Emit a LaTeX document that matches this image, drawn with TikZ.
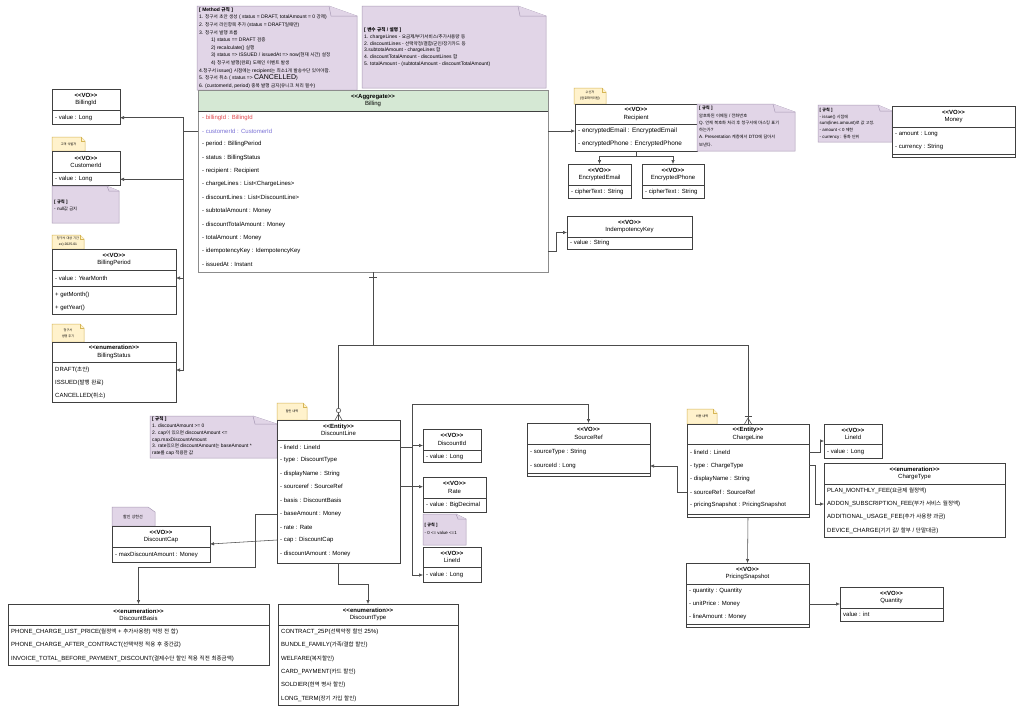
\documentclass[tikz,border=0pt]{standalone}
\usepackage{fontspec}
\setmainfont{Liberation Sans}
\newfontfamily\kr{Noto Sans CJK KR}[Scale=0.92]
\usetikzlibrary{arrows.meta,fit}
\XeTeXinterchartokenstate=1
\newXeTeXintercharclass\HangulClass
\newcount\hcnt
\hcnt="AC00
\loop \XeTeXcharclass\hcnt=\HangulClass\relax \ifnum\hcnt<"D7A3 \advance\hcnt by 1 \repeat
\XeTeXinterchartoks 0 \HangulClass = {\kr}
\XeTeXinterchartoks 4095 \HangulClass = {\kr}
\XeTeXinterchartoks \HangulClass 0 = {\rmfamily}
\XeTeXinterchartoks \HangulClass 4095 = {\rmfamily}
\definecolor{hdrgreen}{HTML}{D5E8D4}
\definecolor{notepurple}{HTML}{E1D5E7}
\definecolor{notedraw}{HTML}{A99BB6}
\definecolor{tagyellow}{HTML}{FFF2CC}
\definecolor{tagdraw}{HTML}{D6B656}
\definecolor{billred}{HTML}{E0474C}
\definecolor{billblue}{HTML}{7B72D6}
\newcommand\st[1]{\textbf{<\kern0pt<#1>\kern0pt>}}
\tikzset{
 conn/.style={draw=black!70, line width=0.55pt},
 arr/.style={conn, -{Latex[length=4pt,width=3.4pt]}},
 box/.style={draw=black!75, fill=white, line width=0.6pt, inner sep=0pt, outer sep=0pt},
 hdr/.style={align=center, inner sep=0pt, font=\fontsize{6}{7.3}\selectfont},
 attr/.style={anchor=west, inner sep=0pt, font=\fontsize{6}{7}\selectfont},
 notebox/.style={fill=notepurple, draw=notedraw, line width=0.5pt},
 tagbox/.style={fill=tagyellow, draw=tagdraw, line width=0.5pt},
 notetxt/.style={anchor=north west, align=left, inner sep=0pt, font=\fontsize{5}{6.9}\selectfont},
 tagtxt/.style={align=center, inner sep=0pt, font=\fontsize{3.4}{6}\selectfont},
}
\newcommand\ucls[8][]{%
  \node[box, #1, fit={(#3,#4) (#5,#7)}] (#2) {};
  \draw[box] (#3,#6) -- (#5,#6);
  \node[hdr] (#2-h) at ({(#3+#5)/2},{(#4+#6)/2}) {#8};
}
\newcommand\dbl[3]{\draw[box] (#1,#3) -- (#2,#3);}
\newcommand\notebg[6]{%
  \filldraw[notebox] (#1,#2) -- ({#3-#5},#2) -- (#3,{#2+#6}) -- (#3,#4) -- (#1,#4) -- cycle;
  \draw[notebox] ({#3-#5},#2) -- ({#3-#5+2},{#2+#6}) -- (#3,{#2+#6});
}
\newcommand\tagnote[6]{%
  \filldraw[tagbox] (#2,#3) -- ({#4-4},#3) -- (#4,{#3+4}) -- (#4,#5) -- (#2,#5) -- cycle;
  \draw[tagbox] ({#4-4},#3) -- ({#4-4},{#3+4}) -- (#4,{#3+4});
  \node[tagtxt] (#1) at ({(#2+#4)/2},{(#3+#5)/2}) {#6};
}
\begin{document}
\begin{tikzpicture}[x=1pt,y=-1pt]
\useasboundingbox (0,0) rectangle (1024,715);
\fill[white] (0,0) rectangle (1024,715);

% ---------- top notes
\notebg{197}{6}{357}{90}{28}{10}
\node[notetxt, font=\fontsize{5}{7.6}\selectfont] (n1) at (199,7.2) {\textbf{[ Method 규칙 ]}\\
1. 청구서 초안 생성 ( status = DRAFT, totalAmount = 0 강제)\\
2. 청구서 라인항목 추가 (status = DRAFT일때만)\\
3. 청구서 발행 흐름\\
\hspace*{12pt}1) status == DRAFT 검증\\
\hspace*{12pt}2) recalculate() 실행\\
\hspace*{12pt}3) status => ISSUED / issuedAt => now(현재 시간) 설정\\
\hspace*{12pt}4) 청구서 발행(완료) 도메인 이벤트 발생\\
4.청구서 issue() 시점에는 recipient는 최소1개 발송수단 있어야함.\\
5. 청구서 취소 ( status => {\fontsize{7}{7.6}\selectfont CANCELLED})\\
6. (customerId, period) 중복 발행 금지(유니크 처리 필수)};

\notebg{362}{6}{546}{88}{28}{10}
\node[notetxt] (n2) at (364,27.2) {\textbf{[ 변수 규칙 / 설명 ]}\\
1. chargeLines - 요금제/부가서비스/추가사용량 등\\
2. discountLines - 선택약정/결합/군인/장기카드 등\\
3.subtotalAmount - chargeLines 합\\
4. discountTotalAmount - discountLines 합\\
5. totalAmount - (subtotalAmount - discountTotalAmount)};

% ---------- Billing
\fill[white] (198,111) rectangle (548,272);
\fill[hdrgreen] (198,90) rectangle (548,111);
\ucls[fill=none, draw=black!45]{bill}{198}{90}{548}{111}{272}{\st{Aggregate}\\Billing}
\node[attr, text=billred] (bill-r1) at (202,117.5) {- billingId : BillingId};
\node[attr, text=billblue] (bill-r2) at (202,131) {- customerId : CustomerId};
\node[attr] (bill-r3) at (202,144.3) {- period : BillingPeriod};
\node[attr] (bill-r4) at (202,158) {- status : BillingStatus};
\node[attr] (bill-r5) at (202,170.7) {- recipient : Recipient};
\node[attr] (bill-r6) at (202,184.3) {- chargeLines : List<ChargeLines>};
\node[attr] (bill-r7) at (202,197.7) {- discountLines : List<DiscountLine>};
\node[attr] (bill-r8) at (202,211) {- subtotalAmount : Money};
\node[attr] (bill-r9) at (202,224.7) {- discountTotalAmount : Money};
\node[attr] (bill-r10) at (202,238) {- totalAmount : Money};
\node[attr] (bill-r11) at (202,251.3) {- idempotencyKey : IdempotencyKey};
\node[attr] (bill-r12) at (202,264.3) {- issuedAt : Instant};

% ---------- left column
\ucls{bid}{52}{89}{120}{110.7}{124}{\st{VO}\\BillingId}
\node[attr] (bid-r1) at (55,117.7) {- value : Long};

\tagnote{cidtag}{52}{137}{85}{151}{고객 식별자}
\ucls{cid}{52}{151}{120}{172.3}{185.5}{\st{VO}\\CustomerId}
\node[attr] (cid-r1) at (55,179.3) {- value : Long};
\notebg{52}{186}{119}{223}{12}{5}
\node[notetxt, font=\fontsize{4.6}{7.4}\selectfont] (cidnote) at (54,199.6) {\textbf{[ 규칙 ]}\\- null값 금지};

\tagnote{bpertag}{52}{235}{84}{249}{청구서 대상 기간\\ex) 2025-01}
\ucls{bper}{52}{249}{176}{270}{314}{\st{VO}\\BillingPeriod}
\node[attr] (bper-r1) at (55,278) {- value : YearMonth};
\draw[box] (52,286) -- (176,286);
\node[attr] (bper-m1) at (55,295) {+ getMonth()};
\node[attr] (bper-m2) at (55,307.5) {+ getYear()};

\tagnote{bsttag}{52}{324}{84}{342}{청구서\\생명 주기}
\ucls{bst}{52}{342}{176}{362}{402}{\st{enumeration}\\BillingStatus}
\node[attr] (bst-r1) at (55,370) {DRAFT(초안)};
\node[attr] (bst-r2) at (55,383) {ISSUED(발행 완료)};
\node[attr] (bst-r3) at (55,396) {CANCELLED(취소)};

% ---------- Recipient group
\tagnote{rcptag}{574}{88}{606}{104}{수신자\\(암호화처리됨)}
\ucls{rcp}{575}{104}{697}{124}{151}{\st{VO}\\Recipient}
\node[attr, font=\fontsize{6.4}{7}\selectfont] (rcp-r1) at (578,131) {- encryptedEmail : EncryptedEmail};
\node[attr, font=\fontsize{6.4}{7}\selectfont] (rcp-r2) at (578,144) {- encryptedPhone : EncryptedPhone};
\notebg{697}{104}{795}{151}{22}{8}
\node[notetxt, font=\fontsize{4.6}{7.3}\selectfont] (rcpnote) at (699,106) {\textbf{[ 규칙 ]}\\
암호화된 이메일 / 전화번호\\
Q. 언제 복호화 처리 후 청구서에 마스킹 표기\\
하는가?\\
A. Presentation 계층에서 DTO에 담아서\\
보낸다.};

\ucls{eem}{568}{164}{631}{185}{198}{\st{VO}\\EncryptedEmail}
\node[attr] (eem-r1) at (571,192) {- cipherText : String};
\ucls{eph}{642}{164}{704}{185}{198}{\st{VO}\\EncryptedPhone}
\node[attr] (eph-r1) at (645,192) {- cipherText : String};

\ucls{idk}{567}{216}{692}{237}{249}{\st{VO}\\IndempotencyKey}
\node[attr] (idk-r1) at (570,243) {- value : String};

% ---------- Money
\notebg{818}{105}{892}{142}{14}{6}
\node[notetxt, font=\fontsize{4.4}{6.7}\selectfont] (monnote) at (819.5,107.8) {\textbf{[ 규칙 ]}\\
- issue() 시점에\\
sum(lines.amount)로 값 고정.\\
- amount < 0 제한\\
- currency : 통화 단위};
\ucls{mon}{892}{106}{1015}{127}{157}{\st{VO}\\Money}
\node[attr] (mon-r1) at (895,134) {- amount : Long};
\node[attr] (mon-r2) at (895,147) {- currency : String};
\dbl{892}{1015}{154.5}

% ---------- DiscountLine
\notebg{150}{416}{277}{458}{24}{8}
\node[notetxt, font=\fontsize{4.9}{6.8}\selectfont] (dlnote) at (152,416.6) {\textbf{[ 규칙 ]}\\
1. discountAmount >= 0\\
2. cap이 있으면 discountAmount <=\\
cap.maxDiscountAmount\\
3. rate있으면 discountAmount는 baseAmount *\\
rate를 cap 적용한 값};

\tagnote{dltag}{277}{403}{307}{420}{할인 내역}
\ucls{dl}{277}{420}{400}{440}{563}{\st{Entity}\\DiscountLine}
\node[attr] (dl-r1) at (280,447) {- lineId : LineId};
\node[attr] (dl-r2) at (280,460) {- type : DiscountType};
\node[attr] (dl-r3) at (280,473.7) {- displayName : String};
\node[attr] (dl-r4) at (280,486.7) {- sourceref : SourceRef};
\node[attr] (dl-r5) at (280,500) {- basis : DiscountBasis};
\node[attr] (dl-r6) at (280,514) {- baseAmount : Money};
\node[attr] (dl-r7) at (280,527) {- rate : Rate};
\node[attr] (dl-r8) at (280,540) {- cap : DiscountCap};
\node[attr] (dl-r9) at (280,553.7) {- discountAmount : Money};

\filldraw[notebox] (112,507) -- (148,507) -- (155,512) -- (155,526) -- (112,526) -- cycle;
\node[tagtxt, font=\fontsize{4.4}{6}\selectfont] (dcaptag) at (133,517) {할인 상한선};
\ucls{dcap}{112}{526}{210}{547}{562}{\st{VO}\\DiscountCap}
\node[attr] (dcap-r1) at (115,554.5) {- maxDiscountAmount : Money};

\ucls{did}{423}{429}{481}{450}{462}{\st{VO}\\DiscountId}
\node[attr] (did-r1) at (426,457) {- value : Long};
\ucls{rate}{423}{477}{486}{498}{512}{\st{VO}\\Rate}
\node[attr] (rate-r1) at (426,505) {- value : BigDecimal};
\notebg{423}{514}{466}{545}{10}{5}
\node[notetxt, font=\fontsize{4.4}{7.6}\selectfont] (ratenote) at (424.5,523) {\textbf{[ 규칙 ]}\\- 0 <= value <=1};
\ucls{dlid}{423}{547}{481}{567}{582}{\st{VO}\\LineId}
\node[attr] (dlid-r1) at (426,575) {- value : Long};

% ---------- SourceRef / ChargeLine
\ucls{sref}{527}{423}{650}{444}{476}{\st{VO}\\SourceRef}
\node[attr] (sref-r1) at (530,452) {- sourceType : String};
\node[attr] (sref-r2) at (530,466) {- sourceId : Long};
\dbl{527}{650}{473}

\tagnote{cltag}{687}{409}{717}{424}{비용 내역}
\ucls{cl}{687}{424}{809}{444}{517}{\st{Entity}\\ChargeLine}
\node[attr] (cl-r1) at (690,452) {- lineId : LineId};
\node[attr] (cl-r2) at (690,465.7) {- type : ChargeType};
\node[attr] (cl-r3) at (690,479) {- displayName : String};
\node[attr] (cl-r4) at (690,492) {- sourceRef : SourceRef};
\node[attr] (cl-r5) at (690,505) {- pricingSnapshot : PricingSnapshot};
\dbl{687}{809}{514}

\ucls{clid}{824}{424}{882}{444}{458}{\st{VO}\\LineId}
\node[attr] (clid-r1) at (827,452) {- value : Long};

\ucls{ctype}{824}{463}{1005}{484}{537}{\st{enumeration}\\ChargeType}
\node[attr] (ctype-r1) at (827,490.7) {PLAN\_MONTHLY\_FEE(요금제 월정액)};
\node[attr] (ctype-r2) at (827,504) {ADDON\_SUBSCRIPTION\_FEE(부가 서비스 월정액)};
\node[attr] (ctype-r3) at (827,517.3) {ADDITIONAL\_USAGE\_FEE(추가 사용량 과금)};
\node[attr] (ctype-r4) at (827,530.7) {DEVICE\_CHARGE(기기 값/ 할부 / 단말대금)};

\ucls{ps}{686}{563}{809}{584}{627}{\st{VO}\\PricingSnapshot}
\node[attr] (ps-r1) at (689,590.7) {- quantity : Quantity};
\node[attr] (ps-r2) at (689,604) {- unitPrice : Money};
\node[attr] (ps-r3) at (689,617.3) {- lineAmount : Money};
\dbl{686}{809}{624}

\ucls{qty}{840}{587}{943}{608}{621}{\st{VO}\\Quantity}
\node[attr] (qty-r1) at (843,614) {value : int};

% ---------- bottom enums
\ucls{dbasis}{8}{604}{269}{625}{665}{\st{enumeration}\\DiscountBasis}
\node[attr] (dbasis-r1) at (11,632) {PHONE\_CHARGE\_LIST\_PRICE(월정액 + 추가사용량) 약정 전 합)};
\node[attr] (dbasis-r2) at (11,645.3) {PHONE\_CHARGE\_AFTER\_CONTRACT(선택약정 적용 후 중간값)};
\node[attr] (dbasis-r3) at (11,658.7) {INVOICE\_TOTAL\_BEFORE\_PAYMENT\_DISCOUNT(결제수단 할인 적용 직전 최종금액)};

\ucls{dtype}{278}{604}{458}{625}{705}{\st{enumeration}\\DiscountType}
\node[attr] (dtype-r1) at (281,632) {CONTRACT\_25P(선택약정 할인 25\%)};
\node[attr] (dtype-r2) at (281,645.3) {BUNDLE\_FAMILY(가족/결합 할인)};
\node[attr] (dtype-r3) at (281,658.7) {WELFARE(복지할인)};
\node[attr] (dtype-r4) at (281,672) {CARD\_PAYMENT(카드 할인)};
\node[attr] (dtype-r5) at (281,685.3) {SOLDIER(현역 병사 할인)};
\node[attr] (dtype-r6) at (281,698.7) {LONG\_TERM(장기 가입 할인)};

% ---------- connectors
\coordinate (trunkL) at (183,131);
\draw[arr] (bill.west |- bill-r2) -- (trunkL) |- (bid.east |- bid-r1);
\draw[arr] (trunkL) |- (cid.east |- cid-r1);
\draw[arr] (trunkL) |- (bper.east |- bper-r1);
\draw[arr] (trunkL) |- (bst.east |- bst-r1);

\draw[arr] (bill.east |- rcp-r1) -- (rcp.west |- rcp-r1);
\draw[arr] (bill.east |- bill-r11) -- ++(8,0) |- (idk.west);

\coordinate (rsplit) at (636,156);
\draw[arr] (rcp.south) -- (rsplit) -| (eem.north);
\draw[arr] (rsplit) -| (eph.north);

\coordinate (jn) at (373,345);
\draw[conn] (bill.south) -- (jn) -| (dl.north);
\draw[conn] (jn) -| (cl.north);
% multiplicity marks
\draw[conn] (369,277) -- (377,277);
\draw[conn, fill=white] (338.5,410.5) circle (2.2);
\draw[conn] (338.5,414) -- (335,420) (338.5,414) -- (342,420);
\draw[conn] (744.5,416) -- (751.5,416);
\draw[conn] (748,418) -- (744.5,424) (748,418) -- (751.5,424);

\coordinate (dtx) at (412,447);
\coordinate (dtop) at (412,404);
\draw[arr] (dl.east |- dl-r1) -- (dtx) -- (dtop) -| (sref.north);
\draw[arr] (dtx) |- (did.west);
\draw[arr] (dl.east |- dl-r4) -- (rate.west |- dl-r4);
\draw[arr] (dtx) |- (dlid.west |- dlid-r1);

\draw[arr] (dl.west |- dl-r6) -| (255,567) -| (dbasis.north);
\draw[arr] (dl.west |- dl-r8) -- (dcap.east);
\draw[arr] (dl.south) -- ++(0,21) -| (dtype.north);

\draw[arr] (cl.west |- cl-r4) -- ++(-10,0) |- (sref.east |- sref-r2);
\draw[arr] (cl.east |- cl-r1) -- ++(11,0) |- (clid.west);
\draw[arr] (cl.east |- cl-r2) -- ++(6,0) |- (ctype.west |- ctype-r2);
\draw[arr] (cl.south) -- (ps.north);
\draw[arr] (ps.east |- ps-r2) -- (qty.west |- ps-r2);
\end{tikzpicture}
\end{document}
